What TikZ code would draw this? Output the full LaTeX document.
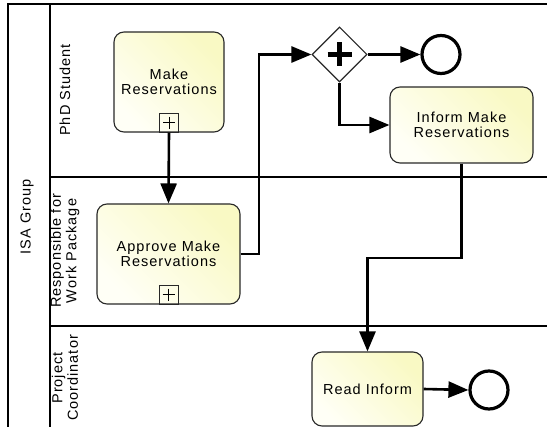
\documentclass[tikz,border=0pt]{standalone}
\usepackage{fontspec}
\newfontfamily\bpmnfont[LetterSpace=7]{Liberation Sans}
\usetikzlibrary{arrows.meta,shapes.geometric,calc}
\definecolor{taskA}{RGB}{255,255,246}
\definecolor{taskB}{RGB}{249,249,196}
\definecolor{taskline}{RGB}{40,40,40}
\begin{document}
\begin{tikzpicture}[x=1pt,y=-1pt,
  font=\bpmnfont\fontsize{14.5}{15.5}\selectfont,
  task/.style={draw=taskline, line width=1.1pt, rounded corners=10pt,
    left color=taskA, right color=taskB, shading angle=135,
    align=center, inner sep=0pt},
  marker/.style={draw=taskline, line width=0.9pt, fill=none, minimum size=19pt, inner sep=0pt, anchor=south},
  flow/.style={line width=2.6pt, -{Triangle[length=20pt,width=16pt]}, line join=miter},
  endev/.style={circle, draw=black, line width=3.2pt, minimum size=38pt, inner sep=0pt, fill=white},
  gate/.style={diamond, draw=taskline, line width=1.1pt, fill=white, minimum width=55pt, minimum height=55pt, inner sep=0pt},
  lanelbl/.style={rotate=90, align=center, inner sep=0pt},
  poolline/.style={line width=1.4pt}
]
\useasboundingbox (0,0) rectangle (547,427);
\begin{scope}
\clip (0,0) rectangle (547,427);
% pool and lanes
\draw[poolline] (8,440) -- (8,4) -- (560,4);
\draw[poolline] (50,440) -- (50,4);
\draw[poolline] (50,177) -- (560,177);
\draw[poolline] (50,326) -- (560,326);
\end{scope}
\node[lanelbl] (pool) at (27,217) {ISA Group};
\node[lanelbl] (l1) at (65,90) {PhD Student};
\node[lanelbl] (l2) at (65,251) {Responsible for\\Work Package};
\node[lanelbl] (l3) at (65,378) {Project\\Coordinator};

% tasks
\node[task, minimum width=110pt, minimum height=100pt] (mr) at (169,82) {Make\\Reservations};
\node[marker] (mrm) at (mr.south) {};
\draw[line width=0.9pt] ($(mrm.center)+(-6,0)$) -- ($(mrm.center)+(6,0)$) ($(mrm.center)+(0,-6)$) -- ($(mrm.center)+(0,6)$);

\node[task, minimum width=143pt, minimum height=100pt] (ap) at (168.5,254) {Approve Make\\Reservations};
\node[marker] (apm) at (ap.south) {};
\draw[line width=0.9pt] ($(apm.center)+(-6,0)$) -- ($(apm.center)+(6,0)$) ($(apm.center)+(0,-6)$) -- ($(apm.center)+(0,6)$);

\node[task, minimum width=143pt, minimum height=76pt] (inf) at (461.5,125) {Inform Make\\Reservations};
\node[task, minimum width=111pt, minimum height=74pt] (rd) at (367.5,389) {Read Inform};

% gateway
\node[gate] (gw) at (339.5,54.5) {};
\draw[line width=4.5pt] ($(gw.center)+(-12,0)$) -- ($(gw.center)+(12,0)$) ($(gw.center)+(0,-12)$) -- ($(gw.center)+(0,12)$);

% end events
\node[endev] (e1) at (441,54.5) {};
\node[endev] (e2) at (489,390) {};

% flows
\draw[flow] (mrm.south) -- (ap.north);
\draw[flow] (ap.east) -- (259,254) -- (259,54.5) -- (gw.west);
\draw[flow] (gw.east) -- (e1.west);
\draw[flow] (gw.south) |- (inf.west);
\draw[flow] (inf.south) -- (461.5,258) -- (367.5,258) -- (rd.north);
\draw[flow] (rd.east) -- (e2.west);
\end{tikzpicture}
\end{document}
